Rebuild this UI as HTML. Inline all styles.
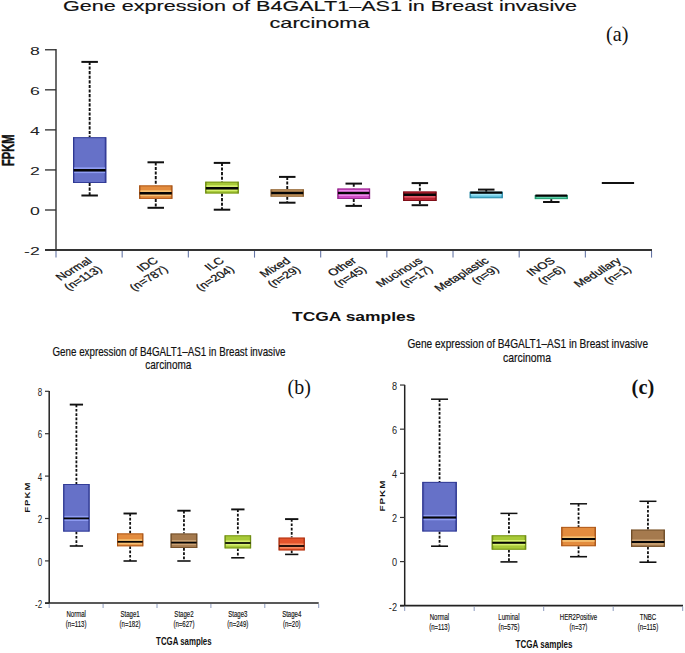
<!DOCTYPE html>
<html><head><meta charset="utf-8"><style>
html,body{margin:0;padding:0;background:#fff;}
body{width:685px;height:653px;overflow:hidden;}
svg{display:block;font-family:"Liberation Sans", sans-serif;}
</style></head><body>
<svg width="685" height="653" viewBox="0 0 685 653">
<defs>
<linearGradient id="g_redor" x1="0" y1="0" x2="1" y2="0"><stop offset="0" stop-color="#a83010"/><stop offset="0.07" stop-color="#e4542c"/><stop offset="0.93" stop-color="#e4542c"/><stop offset="1" stop-color="#a83010"/></linearGradient>
<linearGradient id="g_red" x1="0" y1="0" x2="1" y2="0"><stop offset="0" stop-color="#760a14"/><stop offset="0.07" stop-color="#b82232"/><stop offset="0.93" stop-color="#b82232"/><stop offset="1" stop-color="#760a14"/></linearGradient>
<linearGradient id="g_brown" x1="0" y1="0" x2="1" y2="0"><stop offset="0" stop-color="#6e4c28"/><stop offset="0.07" stop-color="#a57a4e"/><stop offset="0.93" stop-color="#a57a4e"/><stop offset="1" stop-color="#6e4c28"/></linearGradient>
<linearGradient id="g_tan" x1="0" y1="0" x2="1" y2="0"><stop offset="0" stop-color="#8a6034"/><stop offset="0.07" stop-color="#c8985e"/><stop offset="0.93" stop-color="#c8985e"/><stop offset="1" stop-color="#8a6034"/></linearGradient>
<linearGradient id="g_cyan" x1="0" y1="0" x2="1" y2="0"><stop offset="0" stop-color="#2a8aa8"/><stop offset="0.07" stop-color="#60c2de"/><stop offset="0.93" stop-color="#60c2de"/><stop offset="1" stop-color="#2a8aa8"/></linearGradient>
<linearGradient id="g_mag" x1="0" y1="0" x2="1" y2="0"><stop offset="0" stop-color="#92248a"/><stop offset="0.07" stop-color="#d04cc6"/><stop offset="0.93" stop-color="#d04cc6"/><stop offset="1" stop-color="#92248a"/></linearGradient>
<linearGradient id="g_green" x1="0" y1="0" x2="1" y2="0"><stop offset="0" stop-color="#6d8b12"/><stop offset="0.07" stop-color="#a8ca38"/><stop offset="0.93" stop-color="#a8ca38"/><stop offset="1" stop-color="#6d8b12"/></linearGradient>
<linearGradient id="g_orange" x1="0" y1="0" x2="1" y2="0"><stop offset="0" stop-color="#a85518"/><stop offset="0.07" stop-color="#e38c3e"/><stop offset="0.93" stop-color="#e38c3e"/><stop offset="1" stop-color="#a85518"/></linearGradient>
<linearGradient id="g_blue" x1="0" y1="0" x2="1" y2="0"><stop offset="0" stop-color="#2c3590"/><stop offset="0.07" stop-color="#6671c8"/><stop offset="0.93" stop-color="#6671c8"/><stop offset="1" stop-color="#2c3590"/></linearGradient>
<linearGradient id="g_mint" x1="0" y1="0" x2="1" y2="0"><stop offset="0" stop-color="#209870"/><stop offset="0.07" stop-color="#5cd2aa"/><stop offset="0.93" stop-color="#5cd2aa"/><stop offset="1" stop-color="#209870"/></linearGradient>
</defs>
<rect width="685" height="653" fill="#fff"/>
<text x="63" y="11.3" font-size="14.5" stroke="#111" stroke-width="0.15" textLength="514" lengthAdjust="spacingAndGlyphs" fill="#111">Gene expression of B4GALT1–AS1 in Breast invasive</text>
<text x="269.5" y="27.6" font-size="14.2" stroke="#111" stroke-width="0.15" textLength="100" lengthAdjust="spacingAndGlyphs" fill="#111">carcinoma</text>
<text transform="translate(606,41.3) scale(0.92,1)" font-family='"Liberation Serif", serif' font-size="22" fill="#111">(a)</text>
<line x1="56" y1="49" x2="56" y2="250" stroke="#3a3a3a" stroke-width="1.5"/>
<line x1="45" y1="49.76" x2="56" y2="49.76" stroke="#333" stroke-width="1.35"/>
<text transform="translate(39.8,54.66) scale(1.55,1)" font-size="11.4" text-anchor="end" fill="#222">8</text>
<line x1="45" y1="89.82" x2="56" y2="89.82" stroke="#333" stroke-width="1.35"/>
<text transform="translate(39.8,94.72) scale(1.55,1)" font-size="11.4" text-anchor="end" fill="#222">6</text>
<line x1="45" y1="129.88" x2="56" y2="129.88" stroke="#333" stroke-width="1.35"/>
<text transform="translate(39.8,134.78) scale(1.55,1)" font-size="11.4" text-anchor="end" fill="#222">4</text>
<line x1="45" y1="169.94" x2="56" y2="169.94" stroke="#333" stroke-width="1.35"/>
<text transform="translate(39.8,174.84) scale(1.55,1)" font-size="11.4" text-anchor="end" fill="#222">2</text>
<line x1="45" y1="210.00" x2="56" y2="210.00" stroke="#333" stroke-width="1.35"/>
<text transform="translate(39.8,214.90) scale(1.55,1)" font-size="11.4" text-anchor="end" fill="#222">0</text>
<line x1="45" y1="250.06" x2="56" y2="250.06" stroke="#333" stroke-width="1.35"/>
<text transform="translate(39.8,254.96) scale(1.55,1)" font-size="11.4" text-anchor="end" fill="#222">-2</text>
<line x1="45" y1="250" x2="652" y2="250" stroke="#333" stroke-width="2"/>
<line x1="56.00" y1="251" x2="56.00" y2="257.6" stroke="#6575a5" stroke-width="1.1"/>
<line x1="122.17" y1="251" x2="122.17" y2="257.6" stroke="#6575a5" stroke-width="1.1"/>
<line x1="188.34" y1="251" x2="188.34" y2="257.6" stroke="#6575a5" stroke-width="1.1"/>
<line x1="254.51" y1="251" x2="254.51" y2="257.6" stroke="#6575a5" stroke-width="1.1"/>
<line x1="320.68" y1="251" x2="320.68" y2="257.6" stroke="#6575a5" stroke-width="1.1"/>
<line x1="386.85" y1="251" x2="386.85" y2="257.6" stroke="#6575a5" stroke-width="1.1"/>
<line x1="453.02" y1="251" x2="453.02" y2="257.6" stroke="#6575a5" stroke-width="1.1"/>
<line x1="519.19" y1="251" x2="519.19" y2="257.6" stroke="#6575a5" stroke-width="1.1"/>
<line x1="585.36" y1="251" x2="585.36" y2="257.6" stroke="#6575a5" stroke-width="1.1"/>
<line x1="651.53" y1="251" x2="651.53" y2="257.6" stroke="#6575a5" stroke-width="1.1"/>
<text transform="translate(14.2,150.2) rotate(-90) scale(1,1.55)" font-size="11.1" font-weight="bold" stroke="#111" stroke-width="0.3" text-anchor="middle" fill="#111">FPKM</text>
<text x="292" y="320.8" font-size="12.3" font-weight="bold" textLength="123.5" lengthAdjust="spacingAndGlyphs" fill="#111">TCGA samples</text>
<g transform="translate(92.69,261.8) scale(1.4,1) rotate(-40) scale(0.97,1)" font-size="9.6" fill="#111" stroke="#111" stroke-width="0.25" text-anchor="end"><text x="0" y="0">Normal</text><text x="0" y="11.2">(n=113)</text></g>
<g transform="translate(158.85,261.8) scale(1.4,1) rotate(-40) scale(0.97,1)" font-size="9.6" fill="#111" stroke="#111" stroke-width="0.25" text-anchor="end"><text x="0" y="0">IDC</text><text x="0" y="11.2">(n=787)</text></g>
<g transform="translate(225.03,261.8) scale(1.4,1) rotate(-40) scale(0.97,1)" font-size="9.6" fill="#111" stroke="#111" stroke-width="0.25" text-anchor="end"><text x="0" y="0">ILC</text><text x="0" y="11.2">(n=204)</text></g>
<g transform="translate(291.20,261.8) scale(1.4,1) rotate(-40) scale(0.97,1)" font-size="9.6" fill="#111" stroke="#111" stroke-width="0.25" text-anchor="end"><text x="0" y="0">Mixed</text><text x="0" y="11.2">(n=29)</text></g>
<g transform="translate(357.37,261.8) scale(1.4,1) rotate(-40) scale(0.97,1)" font-size="9.6" fill="#111" stroke="#111" stroke-width="0.25" text-anchor="end"><text x="0" y="0">Other</text><text x="0" y="11.2">(n=45)</text></g>
<g transform="translate(423.54,261.8) scale(1.4,1) rotate(-40) scale(0.97,1)" font-size="9.6" fill="#111" stroke="#111" stroke-width="0.25" text-anchor="end"><text x="0" y="0">Mucinous</text><text x="0" y="11.2">(n=17)</text></g>
<g transform="translate(489.71,261.8) scale(1.4,1) rotate(-40) scale(0.97,1)" font-size="9.6" fill="#111" stroke="#111" stroke-width="0.25" text-anchor="end"><text x="0" y="0">Metaplastic</text><text x="0" y="11.2">(n=9)</text></g>
<g transform="translate(555.88,261.8) scale(1.4,1) rotate(-40) scale(0.97,1)" font-size="9.6" fill="#111" stroke="#111" stroke-width="0.25" text-anchor="end"><text x="0" y="0">INOS</text><text x="0" y="11.2">(n=6)</text></g>
<g transform="translate(622.05,261.8) scale(1.4,1) rotate(-40) scale(0.97,1)" font-size="9.6" fill="#111" stroke="#111" stroke-width="0.25" text-anchor="end"><text x="0" y="0">Medullary</text><text x="0" y="11.2">(n=1)</text></g>
<line x1="89.65" y1="61.90" x2="89.65" y2="137.20" stroke="#111" stroke-width="1.9" stroke-dasharray="3.1 1.5"/>
<line x1="81.40" y1="61.90" x2="97.90" y2="61.90" stroke="#111" stroke-width="2.0"/>
<line x1="89.65" y1="183.00" x2="89.65" y2="195.50" stroke="#111" stroke-width="1.9" stroke-dasharray="3.1 1.5"/>
<line x1="81.40" y1="195.50" x2="97.90" y2="195.50" stroke="#111" stroke-width="2.0"/>
<rect x="73.00" y="137.20" width="33.30" height="45.80" fill="url(#g_blue)"/>
<rect x="74.20" y="167.30" width="30.90" height="1.7" fill="#8f9df2"/>
<rect x="74.20" y="171.40" width="30.90" height="1.7" fill="#8f9df2"/>
<rect x="73.50" y="137.70" width="32.30" height="44.80" fill="none" stroke="#2c3590" stroke-width="1" stroke-opacity="0.85"/>
<line x1="73.60" y1="170.20" x2="105.70" y2="170.20" stroke="#050505" stroke-width="2.4"/>
<line x1="155.75" y1="162.30" x2="155.75" y2="185.40" stroke="#111" stroke-width="1.9" stroke-dasharray="3.1 1.5"/>
<line x1="147.50" y1="162.30" x2="164.00" y2="162.30" stroke="#111" stroke-width="2.0"/>
<line x1="155.75" y1="198.90" x2="155.75" y2="207.80" stroke="#111" stroke-width="1.9" stroke-dasharray="3.1 1.5"/>
<line x1="147.50" y1="207.80" x2="164.00" y2="207.80" stroke="#111" stroke-width="2.0"/>
<rect x="139.10" y="185.40" width="33.30" height="13.50" fill="url(#g_orange)"/>
<rect x="140.30" y="190.30" width="30.90" height="1.7" fill="#f6c274"/>
<rect x="140.30" y="194.40" width="30.90" height="1.7" fill="#f6c274"/>
<rect x="139.60" y="185.90" width="32.30" height="12.50" fill="none" stroke="#a85518" stroke-width="1" stroke-opacity="0.85"/>
<line x1="139.70" y1="193.20" x2="171.80" y2="193.20" stroke="#050505" stroke-width="2.4"/>
<line x1="222.00" y1="162.90" x2="222.00" y2="181.70" stroke="#111" stroke-width="1.9" stroke-dasharray="3.1 1.5"/>
<line x1="213.75" y1="162.90" x2="230.25" y2="162.90" stroke="#111" stroke-width="2.0"/>
<line x1="222.00" y1="193.50" x2="222.00" y2="209.70" stroke="#111" stroke-width="1.9" stroke-dasharray="3.1 1.5"/>
<line x1="213.75" y1="209.70" x2="230.25" y2="209.70" stroke="#111" stroke-width="2.0"/>
<rect x="205.20" y="181.70" width="33.60" height="11.80" fill="url(#g_green)"/>
<rect x="206.40" y="185.30" width="31.20" height="1.7" fill="#d6f070"/>
<rect x="206.40" y="189.40" width="31.20" height="1.7" fill="#d6f070"/>
<rect x="205.70" y="182.20" width="32.60" height="10.80" fill="none" stroke="#6d8b12" stroke-width="1" stroke-opacity="0.85"/>
<line x1="205.80" y1="188.20" x2="238.20" y2="188.20" stroke="#050505" stroke-width="2.4"/>
<line x1="287.25" y1="176.90" x2="287.25" y2="189.30" stroke="#111" stroke-width="1.9" stroke-dasharray="3.1 1.5"/>
<line x1="279.00" y1="176.90" x2="295.50" y2="176.90" stroke="#111" stroke-width="2.0"/>
<line x1="287.25" y1="196.70" x2="287.25" y2="202.70" stroke="#111" stroke-width="1.9" stroke-dasharray="3.1 1.5"/>
<line x1="279.00" y1="202.70" x2="295.50" y2="202.70" stroke="#111" stroke-width="2.0"/>
<rect x="270.60" y="189.30" width="33.30" height="7.40" fill="url(#g_tan)"/>
<rect x="271.10" y="189.80" width="32.30" height="6.40" fill="none" stroke="#8a6034" stroke-width="1" stroke-opacity="0.85"/>
<line x1="271.20" y1="193.00" x2="303.30" y2="193.00" stroke="#050505" stroke-width="2.4"/>
<line x1="353.75" y1="183.60" x2="353.75" y2="188.50" stroke="#111" stroke-width="1.9" stroke-dasharray="3.1 1.5"/>
<line x1="345.50" y1="183.60" x2="362.00" y2="183.60" stroke="#111" stroke-width="2.0"/>
<line x1="353.75" y1="199.00" x2="353.75" y2="205.90" stroke="#111" stroke-width="1.9" stroke-dasharray="3.1 1.5"/>
<line x1="345.50" y1="205.90" x2="362.00" y2="205.90" stroke="#111" stroke-width="2.0"/>
<rect x="337.40" y="188.50" width="32.70" height="10.50" fill="url(#g_mag)"/>
<rect x="338.60" y="190.10" width="30.30" height="1.7" fill="#f28ef0"/>
<rect x="338.60" y="194.20" width="30.30" height="1.7" fill="#f28ef0"/>
<rect x="337.90" y="189.00" width="31.70" height="9.50" fill="none" stroke="#92248a" stroke-width="1" stroke-opacity="0.85"/>
<line x1="338.00" y1="193.00" x2="369.50" y2="193.00" stroke="#050505" stroke-width="2.4"/>
<line x1="419.85" y1="183.10" x2="419.85" y2="191.50" stroke="#111" stroke-width="1.9" stroke-dasharray="3.1 1.5"/>
<line x1="411.60" y1="183.10" x2="428.10" y2="183.10" stroke="#111" stroke-width="2.0"/>
<line x1="419.85" y1="201.00" x2="419.85" y2="205.20" stroke="#111" stroke-width="1.9" stroke-dasharray="3.1 1.5"/>
<line x1="411.60" y1="205.20" x2="428.10" y2="205.20" stroke="#111" stroke-width="2.0"/>
<rect x="403.10" y="191.50" width="33.50" height="9.50" fill="url(#g_red)"/>
<rect x="404.30" y="196.00" width="31.10" height="1.7" fill="#e05666"/>
<rect x="403.60" y="192.00" width="32.50" height="8.50" fill="none" stroke="#760a14" stroke-width="1" stroke-opacity="0.85"/>
<line x1="403.70" y1="194.80" x2="436.00" y2="194.80" stroke="#050505" stroke-width="2.4"/>
<line x1="486.25" y1="189.60" x2="486.25" y2="191.80" stroke="#111" stroke-width="1.9" stroke-dasharray="3.1 1.5"/>
<line x1="478.00" y1="189.60" x2="494.50" y2="189.60" stroke="#111" stroke-width="2.0"/>
<rect x="469.70" y="191.80" width="33.10" height="6.40" fill="url(#g_cyan)"/>
<rect x="470.90" y="193.80" width="30.70" height="1.7" fill="#a0e4f6"/>
<rect x="470.20" y="192.30" width="32.10" height="5.40" fill="none" stroke="#2a8aa8" stroke-width="1" stroke-opacity="0.85"/>
<line x1="470.30" y1="192.60" x2="502.20" y2="192.60" stroke="#050505" stroke-width="2.4"/>
<line x1="551.30" y1="199.10" x2="551.30" y2="202.00" stroke="#111" stroke-width="1.9" stroke-dasharray="3.1 1.5"/>
<line x1="543.05" y1="202.00" x2="559.55" y2="202.00" stroke="#111" stroke-width="2.0"/>
<rect x="534.80" y="195.00" width="33.00" height="4.10" fill="url(#g_mint)"/>
<rect x="535.30" y="195.50" width="32.00" height="3.10" fill="none" stroke="#209870" stroke-width="1" stroke-opacity="0.85"/>
<line x1="535.40" y1="195.60" x2="567.20" y2="195.60" stroke="#050505" stroke-width="2.4"/>
<line x1="601.8" y1="183" x2="634.1" y2="183" stroke="#111" stroke-width="2"/>
<text x="52.5" y="355.9" font-size="12.8" stroke="#111" stroke-width="0.2" textLength="233" lengthAdjust="spacingAndGlyphs" fill="#111">Gene expression of B4GALT1–AS1 in Breast invasive</text>
<text x="145.3" y="369.2" font-size="12.8" stroke="#111" stroke-width="0.2" textLength="46" lengthAdjust="spacingAndGlyphs" fill="#111">carcinoma</text>
<text transform="translate(287.6,393.8) scale(0.95,1)" font-family='"Liberation Serif", serif' font-size="21" fill="#111">(b)</text>
<line x1="49.2" y1="391" x2="49.2" y2="603" stroke="#222" stroke-width="1.5"/>
<line x1="45" y1="391.30" x2="49.2" y2="391.30" stroke="#333" stroke-width="1.2"/>
<text transform="translate(42.1,395.90) scale(0.8,1)" font-size="10" text-anchor="end" fill="#222">8</text>
<line x1="45" y1="433.70" x2="49.2" y2="433.70" stroke="#333" stroke-width="1.2"/>
<text transform="translate(42.1,438.30) scale(0.8,1)" font-size="10" text-anchor="end" fill="#222">6</text>
<line x1="45" y1="476.10" x2="49.2" y2="476.10" stroke="#333" stroke-width="1.2"/>
<text transform="translate(42.1,480.70) scale(0.8,1)" font-size="10" text-anchor="end" fill="#222">4</text>
<line x1="45" y1="518.50" x2="49.2" y2="518.50" stroke="#333" stroke-width="1.2"/>
<text transform="translate(42.1,523.10) scale(0.8,1)" font-size="10" text-anchor="end" fill="#222">2</text>
<line x1="45" y1="560.90" x2="49.2" y2="560.90" stroke="#333" stroke-width="1.2"/>
<text transform="translate(42.1,565.50) scale(0.8,1)" font-size="10" text-anchor="end" fill="#222">0</text>
<line x1="45" y1="603.30" x2="49.2" y2="603.30" stroke="#333" stroke-width="1.2"/>
<text transform="translate(42.1,607.90) scale(0.8,1)" font-size="10" text-anchor="end" fill="#222">-2</text>
<line x1="45" y1="603" x2="318.7" y2="603" stroke="#222" stroke-width="1.6"/>
<line x1="49.20" y1="604" x2="49.20" y2="608" stroke="#8090b8" stroke-width="0.9"/>
<line x1="103.10" y1="604" x2="103.10" y2="608" stroke="#8090b8" stroke-width="0.9"/>
<line x1="157.00" y1="604" x2="157.00" y2="608" stroke="#8090b8" stroke-width="0.9"/>
<line x1="210.90" y1="604" x2="210.90" y2="608" stroke="#8090b8" stroke-width="0.9"/>
<line x1="264.80" y1="604" x2="264.80" y2="608" stroke="#8090b8" stroke-width="0.9"/>
<line x1="318.70" y1="604" x2="318.70" y2="608" stroke="#8090b8" stroke-width="0.9"/>
<text transform="translate(30.3,497.2) rotate(-90) scale(1.25,1)" font-size="7.7" font-weight="bold" letter-spacing="0.8" text-anchor="middle" fill="#111">FPKM</text>
<text x="156.1" y="644.6" font-size="10" font-weight="bold" textLength="55.5" lengthAdjust="spacingAndGlyphs" fill="#111">TCGA samples</text>
<text transform="translate(76.15,616.8) scale(0.74,1)" font-size="8.2" text-anchor="middle" fill="#111" stroke="#111" stroke-width="0.15">Normal</text>
<text transform="translate(76.15,627.4) scale(0.74,1)" font-size="8.2" text-anchor="middle" fill="#111" stroke="#111" stroke-width="0.15">(n=113)</text>
<text transform="translate(130.05,616.8) scale(0.74,1)" font-size="8.2" text-anchor="middle" fill="#111" stroke="#111" stroke-width="0.15">Stage1</text>
<text transform="translate(130.05,627.4) scale(0.74,1)" font-size="8.2" text-anchor="middle" fill="#111" stroke="#111" stroke-width="0.15">(n=182)</text>
<text transform="translate(183.95,616.8) scale(0.74,1)" font-size="8.2" text-anchor="middle" fill="#111" stroke="#111" stroke-width="0.15">Stage2</text>
<text transform="translate(183.95,627.4) scale(0.74,1)" font-size="8.2" text-anchor="middle" fill="#111" stroke="#111" stroke-width="0.15">(n=627)</text>
<text transform="translate(237.85,616.8) scale(0.74,1)" font-size="8.2" text-anchor="middle" fill="#111" stroke="#111" stroke-width="0.15">Stage3</text>
<text transform="translate(237.85,627.4) scale(0.74,1)" font-size="8.2" text-anchor="middle" fill="#111" stroke="#111" stroke-width="0.15">(n=249)</text>
<text transform="translate(291.75,616.8) scale(0.74,1)" font-size="8.2" text-anchor="middle" fill="#111" stroke="#111" stroke-width="0.15">Stage4</text>
<text transform="translate(291.75,627.4) scale(0.74,1)" font-size="8.2" text-anchor="middle" fill="#111" stroke="#111" stroke-width="0.15">(n=20)</text>
<line x1="76.40" y1="404.60" x2="76.40" y2="484.00" stroke="#111" stroke-width="1.8" stroke-dasharray="2.7 1.6"/>
<line x1="69.75" y1="404.60" x2="83.05" y2="404.60" stroke="#111" stroke-width="1.9"/>
<line x1="76.40" y1="531.60" x2="76.40" y2="546.00" stroke="#111" stroke-width="1.8" stroke-dasharray="2.7 1.6"/>
<line x1="69.75" y1="546.00" x2="83.05" y2="546.00" stroke="#111" stroke-width="1.6"/>
<rect x="63.20" y="484.00" width="26.40" height="47.60" fill="url(#g_blue)"/>
<rect x="64.40" y="515.85" width="24.00" height="1.7" fill="#8f9df2"/>
<rect x="64.40" y="519.25" width="24.00" height="1.7" fill="#8f9df2"/>
<rect x="63.70" y="484.50" width="25.40" height="46.60" fill="none" stroke="#2c3590" stroke-width="1" stroke-opacity="0.85"/>
<line x1="63.80" y1="518.40" x2="89.00" y2="518.40" stroke="#050505" stroke-width="1.7"/>
<line x1="130.15" y1="513.50" x2="130.15" y2="533.40" stroke="#111" stroke-width="1.8" stroke-dasharray="2.7 1.6"/>
<line x1="123.50" y1="513.50" x2="136.80" y2="513.50" stroke="#111" stroke-width="1.9"/>
<line x1="130.15" y1="546.30" x2="130.15" y2="561.00" stroke="#111" stroke-width="1.8" stroke-dasharray="2.7 1.6"/>
<line x1="123.50" y1="561.00" x2="136.80" y2="561.00" stroke="#111" stroke-width="1.6"/>
<rect x="117.00" y="533.40" width="26.30" height="12.90" fill="url(#g_orange)"/>
<rect x="118.20" y="539.25" width="23.90" height="1.7" fill="#f6c274"/>
<rect x="118.20" y="542.65" width="23.90" height="1.7" fill="#f6c274"/>
<rect x="117.50" y="533.90" width="25.30" height="11.90" fill="none" stroke="#a85518" stroke-width="1" stroke-opacity="0.85"/>
<line x1="117.60" y1="541.80" x2="142.70" y2="541.80" stroke="#050505" stroke-width="1.7"/>
<line x1="183.95" y1="510.70" x2="183.95" y2="533.50" stroke="#111" stroke-width="1.8" stroke-dasharray="2.7 1.6"/>
<line x1="177.30" y1="510.70" x2="190.60" y2="510.70" stroke="#111" stroke-width="1.9"/>
<line x1="183.95" y1="548.00" x2="183.95" y2="561.00" stroke="#111" stroke-width="1.8" stroke-dasharray="2.7 1.6"/>
<line x1="177.30" y1="561.00" x2="190.60" y2="561.00" stroke="#111" stroke-width="1.6"/>
<rect x="170.60" y="533.50" width="26.70" height="14.50" fill="url(#g_brown)"/>
<rect x="171.80" y="540.05" width="24.30" height="1.7" fill="#caa274"/>
<rect x="171.80" y="543.45" width="24.30" height="1.7" fill="#caa274"/>
<rect x="171.10" y="534.00" width="25.70" height="13.50" fill="none" stroke="#6e4c28" stroke-width="1" stroke-opacity="0.85"/>
<line x1="171.20" y1="542.60" x2="196.70" y2="542.60" stroke="#050505" stroke-width="1.7"/>
<line x1="237.85" y1="509.40" x2="237.85" y2="535.30" stroke="#111" stroke-width="1.8" stroke-dasharray="2.7 1.6"/>
<line x1="231.20" y1="509.40" x2="244.50" y2="509.40" stroke="#111" stroke-width="1.9"/>
<line x1="237.85" y1="548.40" x2="237.85" y2="557.80" stroke="#111" stroke-width="1.8" stroke-dasharray="2.7 1.6"/>
<line x1="231.20" y1="557.80" x2="244.50" y2="557.80" stroke="#111" stroke-width="1.6"/>
<rect x="224.60" y="535.30" width="26.50" height="13.10" fill="url(#g_green)"/>
<rect x="225.80" y="540.45" width="24.10" height="1.7" fill="#d6f070"/>
<rect x="225.80" y="543.85" width="24.10" height="1.7" fill="#d6f070"/>
<rect x="225.10" y="535.80" width="25.50" height="12.10" fill="none" stroke="#6d8b12" stroke-width="1" stroke-opacity="0.85"/>
<line x1="225.20" y1="543.00" x2="250.50" y2="543.00" stroke="#050505" stroke-width="1.7"/>
<line x1="291.70" y1="519.10" x2="291.70" y2="537.60" stroke="#111" stroke-width="1.8" stroke-dasharray="2.7 1.6"/>
<line x1="285.05" y1="519.10" x2="298.35" y2="519.10" stroke="#111" stroke-width="1.9"/>
<line x1="291.70" y1="550.40" x2="291.70" y2="554.40" stroke="#111" stroke-width="1.8" stroke-dasharray="2.7 1.6"/>
<line x1="285.05" y1="554.40" x2="298.35" y2="554.40" stroke="#111" stroke-width="1.6"/>
<rect x="278.60" y="537.60" width="26.20" height="12.80" fill="url(#g_redor)"/>
<rect x="279.80" y="543.45" width="23.80" height="1.7" fill="#f88c62"/>
<rect x="279.80" y="546.85" width="23.80" height="1.7" fill="#f88c62"/>
<rect x="279.10" y="538.10" width="25.20" height="11.80" fill="none" stroke="#a83010" stroke-width="1" stroke-opacity="0.85"/>
<line x1="279.20" y1="546.00" x2="304.20" y2="546.00" stroke="#050505" stroke-width="1.7"/>
<text x="407.5" y="348.2" font-size="12.8" stroke="#111" stroke-width="0.2" textLength="240.5" lengthAdjust="spacingAndGlyphs" fill="#111">Gene expression of B4GALT1–AS1 in Breast invasive</text>
<text x="503" y="362.3" font-size="12.8" stroke="#111" stroke-width="0.2" textLength="48" lengthAdjust="spacingAndGlyphs" fill="#111">carcinoma</text>
<text transform="translate(631.6,393.7) scale(0.97,1)" font-family='"Liberation Serif", serif' font-size="21" font-weight="bold" fill="#111">(c)</text>
<line x1="404.7" y1="384.9" x2="404.7" y2="605.6" stroke="#222" stroke-width="1.5"/>
<line x1="400" y1="385.04" x2="404.7" y2="385.04" stroke="#333" stroke-width="1.2"/>
<text transform="translate(397,389.84) scale(0.84,1)" font-size="10.9" text-anchor="end" fill="#222">8</text>
<line x1="400" y1="429.18" x2="404.7" y2="429.18" stroke="#333" stroke-width="1.2"/>
<text transform="translate(397,433.98) scale(0.84,1)" font-size="10.9" text-anchor="end" fill="#222">6</text>
<line x1="400" y1="473.32" x2="404.7" y2="473.32" stroke="#333" stroke-width="1.2"/>
<text transform="translate(397,478.12) scale(0.84,1)" font-size="10.9" text-anchor="end" fill="#222">4</text>
<line x1="400" y1="517.46" x2="404.7" y2="517.46" stroke="#333" stroke-width="1.2"/>
<text transform="translate(397,522.26) scale(0.84,1)" font-size="10.9" text-anchor="end" fill="#222">2</text>
<line x1="400" y1="561.60" x2="404.7" y2="561.60" stroke="#333" stroke-width="1.2"/>
<text transform="translate(397,566.40) scale(0.84,1)" font-size="10.9" text-anchor="end" fill="#222">0</text>
<line x1="400" y1="605.74" x2="404.7" y2="605.74" stroke="#333" stroke-width="1.2"/>
<text transform="translate(397,610.54) scale(0.84,1)" font-size="10.9" text-anchor="end" fill="#222">-2</text>
<line x1="400" y1="605.6" x2="683" y2="605.6" stroke="#222" stroke-width="1.6"/>
<line x1="404.70" y1="606.6" x2="404.70" y2="611" stroke="#8090b8" stroke-width="0.9"/>
<line x1="474.20" y1="606.6" x2="474.20" y2="611" stroke="#8090b8" stroke-width="0.9"/>
<line x1="543.70" y1="606.6" x2="543.70" y2="611" stroke="#8090b8" stroke-width="0.9"/>
<line x1="613.20" y1="606.6" x2="613.20" y2="611" stroke="#8090b8" stroke-width="0.9"/>
<line x1="682.70" y1="606.6" x2="682.70" y2="611" stroke="#8090b8" stroke-width="0.9"/>
<text transform="translate(385,495.6) rotate(-90) scale(1.25,1)" font-size="7.9" font-weight="bold" letter-spacing="0.8" text-anchor="middle" fill="#111">FPKM</text>
<text x="515.5" y="648.3" font-size="10" font-weight="bold" textLength="57" lengthAdjust="spacingAndGlyphs" fill="#111">TCGA samples</text>
<text transform="translate(439.45,619.5) scale(0.74,1)" font-size="8.2" text-anchor="middle" fill="#111" stroke="#111" stroke-width="0.15">Normal</text>
<text transform="translate(439.45,630.2) scale(0.74,1)" font-size="8.2" text-anchor="middle" fill="#111" stroke="#111" stroke-width="0.15">(n=113)</text>
<text transform="translate(508.95,619.5) scale(0.74,1)" font-size="8.2" text-anchor="middle" fill="#111" stroke="#111" stroke-width="0.15">Luminal</text>
<text transform="translate(508.95,630.2) scale(0.74,1)" font-size="8.2" text-anchor="middle" fill="#111" stroke="#111" stroke-width="0.15">(n=575)</text>
<text transform="translate(578.45,619.5) scale(0.74,1)" font-size="8.2" text-anchor="middle" fill="#111" stroke="#111" stroke-width="0.15">HER2Positive</text>
<text transform="translate(578.45,630.2) scale(0.74,1)" font-size="8.2" text-anchor="middle" fill="#111" stroke="#111" stroke-width="0.15">(n=37)</text>
<text transform="translate(647.95,619.5) scale(0.74,1)" font-size="8.2" text-anchor="middle" fill="#111" stroke="#111" stroke-width="0.15">TNBC</text>
<text transform="translate(647.95,630.2) scale(0.74,1)" font-size="8.2" text-anchor="middle" fill="#111" stroke="#111" stroke-width="0.15">(n=115)</text>
<line x1="439.55" y1="399.20" x2="439.55" y2="481.90" stroke="#111" stroke-width="1.8" stroke-dasharray="2.7 1.6"/>
<line x1="431.05" y1="399.20" x2="448.05" y2="399.20" stroke="#111" stroke-width="1.5"/>
<line x1="439.55" y1="531.50" x2="439.55" y2="546.20" stroke="#111" stroke-width="1.8" stroke-dasharray="2.7 1.6"/>
<line x1="431.05" y1="546.20" x2="448.05" y2="546.20" stroke="#111" stroke-width="1.6"/>
<rect x="422.30" y="481.90" width="34.50" height="49.60" fill="url(#g_blue)"/>
<rect x="423.50" y="514.90" width="32.10" height="1.7" fill="#8f9df2"/>
<rect x="423.50" y="518.60" width="32.10" height="1.7" fill="#8f9df2"/>
<rect x="422.80" y="482.40" width="33.50" height="48.60" fill="none" stroke="#2c3590" stroke-width="1" stroke-opacity="0.85"/>
<line x1="422.90" y1="517.60" x2="456.20" y2="517.60" stroke="#050505" stroke-width="2.0"/>
<line x1="508.95" y1="513.40" x2="508.95" y2="535.30" stroke="#111" stroke-width="1.8" stroke-dasharray="2.7 1.6"/>
<line x1="500.45" y1="513.40" x2="517.45" y2="513.40" stroke="#111" stroke-width="1.5"/>
<line x1="508.95" y1="549.70" x2="508.95" y2="561.90" stroke="#111" stroke-width="1.8" stroke-dasharray="2.7 1.6"/>
<line x1="500.45" y1="561.90" x2="517.45" y2="561.90" stroke="#111" stroke-width="1.6"/>
<rect x="491.70" y="535.30" width="34.50" height="14.40" fill="url(#g_green)"/>
<rect x="492.90" y="540.00" width="32.10" height="1.7" fill="#d6f070"/>
<rect x="492.90" y="543.70" width="32.10" height="1.7" fill="#d6f070"/>
<rect x="492.20" y="535.80" width="33.50" height="13.40" fill="none" stroke="#6d8b12" stroke-width="1" stroke-opacity="0.85"/>
<line x1="492.30" y1="542.70" x2="525.60" y2="542.70" stroke="#050505" stroke-width="2.0"/>
<line x1="578.55" y1="503.80" x2="578.55" y2="526.90" stroke="#111" stroke-width="1.8" stroke-dasharray="2.7 1.6"/>
<line x1="570.05" y1="503.80" x2="587.05" y2="503.80" stroke="#111" stroke-width="1.5"/>
<line x1="578.55" y1="546.20" x2="578.55" y2="556.70" stroke="#111" stroke-width="1.8" stroke-dasharray="2.7 1.6"/>
<line x1="570.05" y1="556.70" x2="587.05" y2="556.70" stroke="#111" stroke-width="1.6"/>
<rect x="561.20" y="526.90" width="34.70" height="19.30" fill="url(#g_orange)"/>
<rect x="562.40" y="536.40" width="32.30" height="1.7" fill="#f6c274"/>
<rect x="562.40" y="540.10" width="32.30" height="1.7" fill="#f6c274"/>
<rect x="561.70" y="527.40" width="33.70" height="18.30" fill="none" stroke="#a85518" stroke-width="1" stroke-opacity="0.85"/>
<line x1="561.80" y1="539.10" x2="595.30" y2="539.10" stroke="#050505" stroke-width="2.0"/>
<line x1="647.95" y1="501.30" x2="647.95" y2="529.60" stroke="#111" stroke-width="1.8" stroke-dasharray="2.7 1.6"/>
<line x1="639.45" y1="501.30" x2="656.45" y2="501.30" stroke="#111" stroke-width="1.5"/>
<line x1="647.95" y1="546.90" x2="647.95" y2="562.20" stroke="#111" stroke-width="1.8" stroke-dasharray="2.7 1.6"/>
<line x1="639.45" y1="562.20" x2="656.45" y2="562.20" stroke="#111" stroke-width="1.6"/>
<rect x="631.00" y="529.60" width="33.90" height="17.30" fill="url(#g_brown)"/>
<rect x="632.20" y="539.40" width="31.50" height="1.7" fill="#caa274"/>
<rect x="632.20" y="543.10" width="31.50" height="1.7" fill="#caa274"/>
<rect x="631.50" y="530.10" width="32.90" height="16.30" fill="none" stroke="#6e4c28" stroke-width="1" stroke-opacity="0.85"/>
<line x1="631.60" y1="542.10" x2="664.30" y2="542.10" stroke="#050505" stroke-width="2.0"/>
</svg>
</body></html>
